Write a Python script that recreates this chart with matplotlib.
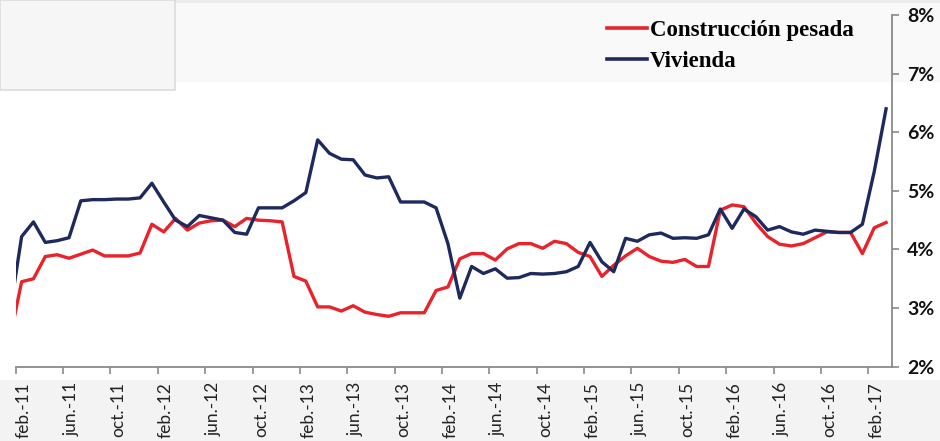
import matplotlib
matplotlib.use("Agg")
import matplotlib.pyplot as plt
from matplotlib.patches import Rectangle
from matplotlib.lines import Line2D
import numpy as np

# monthly series, ene-11 .. mar-17 (in %)
construccion_pesada = [
    2.47, 3.45, 3.50, 3.88, 3.91, 3.85, 3.92, 3.99, 3.89, 3.89, 3.89, 3.94, 4.43,
    4.30, 4.53, 4.33, 4.45, 4.49, 4.50, 4.39, 4.53, 4.50, 4.49, 4.47, 3.54,
    3.46, 3.02, 3.02, 2.95, 3.04, 2.93, 2.89, 2.86, 2.92, 2.92, 2.92, 3.30,
    3.36, 3.84, 3.93, 3.93, 3.82, 4.01, 4.10, 4.10, 4.02, 4.14, 4.10, 3.95,
    3.88, 3.54, 3.73, 3.89, 4.02, 3.88, 3.80, 3.78, 3.83, 3.71, 3.71, 4.67,
    4.76, 4.73, 4.45, 4.22, 4.09, 4.06, 4.10, 4.20, 4.30, 4.29, 4.29, 3.93,
    4.37, 4.46,
]
vivienda = [
    2.90, 4.22, 4.47, 4.12, 4.15, 4.20, 4.83, 4.85, 4.85, 4.86, 4.86, 4.88, 5.13,
    4.81, 4.50, 4.39, 4.58, 4.54, 4.50, 4.29, 4.26, 4.71, 4.71, 4.71, 4.83,
    4.97, 5.87, 5.64, 5.54, 5.53, 5.27, 5.22, 5.24, 4.81, 4.81, 4.81, 4.71,
    4.10, 3.17, 3.71, 3.59, 3.67, 3.51, 3.52, 3.59, 3.58, 3.59, 3.62, 3.71,
    4.12, 3.79, 3.62, 4.19, 4.14, 4.25, 4.28, 4.19, 4.20, 4.19, 4.25, 4.69,
    4.36, 4.69, 4.56, 4.33, 4.39, 4.30, 4.26, 4.33, 4.31, 4.29, 4.29, 4.43,
    5.33, 6.40,
]
tick_labels = ['feb.-11', 'jun.-11', 'oct.-11', 'feb.-12', 'jun.-12', 'oct.-12',
               'feb.-13', 'jun.-13', 'oct.-13', 'feb.-14', 'jun.-14', 'oct.-14',
               'feb.-15', 'jun.-15', 'oct.-15', 'feb.-16', 'jun.-16', 'oct.-16',
               'feb.-17']
y_ticks = [2, 3, 4, 5, 6, 7, 8]

red = '#e8232b'
navy = '#1e2a5e'

W, H = 940, 441
fig = plt.figure(figsize=(W / 100, H / 100), dpi=100)
fig.patch.set_facecolor('white')

# light panels of the original screenshot
fig.patches.append(Rectangle((175 / W, 1 - 82 / H), 1, 82 / H, transform=fig.transFigure,
                             facecolor='#f9f9f9', edgecolor='none', zorder=-10))
fig.patches.append(Rectangle((0, 1 - 3 / H), 1, 3 / H, transform=fig.transFigure,
                             facecolor='#ececec', edgecolor='none', zorder=-9))
fig.patches.append(Rectangle((0, 1 - 90 / H), 175 / W, 90 / H, transform=fig.transFigure,
                             facecolor='#f6f6f6', edgecolor='#dcdcdc', lw=1.2, zorder=-8))
fig.patches.append(Rectangle((0, 0), 1, (H - 380) / H, transform=fig.transFigure,
                             facecolor='#f3f3f3', edgecolor='none', zorder=-10))

x0, x1, ytop, ybot = 15.7, 892, 15, 366.7
ax = fig.add_axes([x0 / W, 1 - ybot / H, (x1 - x0) / W, (ybot - ytop) / H])
ax.patch.set_alpha(0)

n = len(vivienda)
x = np.arange(n) - 0.5
ax.plot(x, construccion_pesada, color=red, lw=2.4, solid_joinstyle='round')
ax.plot(x, vivienda, color=navy, lw=2.4, solid_joinstyle='round')

ax.set_xlim(0, 74)
ax.set_ylim(2, 8)

# tick marks on month boundaries, labels a bit to the right (minor ticks)
tick_pos = np.arange(0, 73, 4)
ax.set_xticks(tick_pos)
ax.set_xticklabels([])
ax.set_xticks(tick_pos + 0.7, minor=True)
ax.set_xticklabels(tick_labels, minor=True, rotation=90, fontsize=12.5, family='Lato',
                   color='#222222')

ax.yaxis.tick_right()
ax.set_yticks(y_ticks)
ax.set_yticklabels(['%d%%' % v for v in y_ticks], fontsize=14, family='Lato',
                   fontweight='bold', color='#111111')

for s in ['left', 'top']:
    ax.spines[s].set_visible(False)
for s in ['bottom', 'right']:
    ax.spines[s].set_color('#8a8a8a')
    ax.spines[s].set_linewidth(1.3)
ax.tick_params(axis='x', which='major', direction='out', length=5, width=1.2, color='#8a8a8a')
ax.tick_params(axis='x', which='minor', length=0, pad=11)
ax.tick_params(axis='y', direction='out', length=5, width=1.2, color='#8a8a8a', pad=6)

handles = [Line2D([], [], color=red, lw=2.6), Line2D([], [], color=navy, lw=2.6)]
leg = fig.legend(handles, ['Construcción pesada', 'Vivienda'], loc='upper left',
                 bbox_to_anchor=(607 / W, 1 - 20 / H), frameon=False, borderpad=0,
                 borderaxespad=0, handlelength=1.75, handletextpad=0.12, labelspacing=0.45,
                 prop={'family': 'Liberation Serif', 'weight': 'bold', 'size': 16.5})

fig.savefig('out.png', dpi=100)
